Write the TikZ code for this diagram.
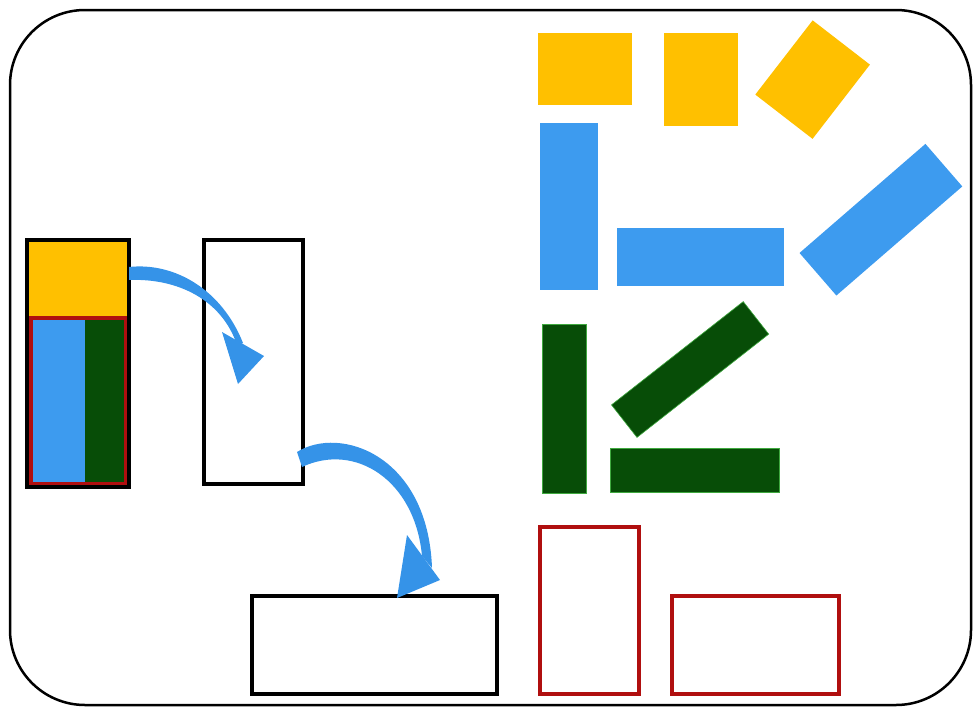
\documentclass[tikz,border=0pt]{standalone}
\definecolor{myyellow}{HTML}{FFC000}
\definecolor{myblue}{HTML}{3D9BEF}
\definecolor{mygreen}{HTML}{074D07}
\definecolor{myred}{HTML}{B00F0F}
\definecolor{arrowblue}{HTML}{3593E8}
\definecolor{lightgreen}{HTML}{3FA93F}
\tikzset{
  box/.style={rectangle, inner sep=0pt, outer sep=0pt, minimum width=#1},
  blackbox/.style={draw=black, line width=3.5pt},
  redbox/.style={draw=myred, line width=3.5pt},
  yel/.style={fill=myyellow},
  blu/.style={fill=myblue},
  grn/.style={fill=mygreen, draw=lightgreen, line width=0.6pt},
  bigarrow/.style={fill=arrowblue, draw=none}
}
\begin{document}
\begin{tikzpicture}[x=1pt,y=-1pt]
\useasboundingbox (0,0) rectangle (974,707);
% frame
\draw[line width=2.5pt, rounded corners=75pt] (10,10) rectangle (971,705);

% left stack
\node[box=100pt, minimum height=78pt, yel] (stacktop) at (78,280) {};
\node[box=52pt, minimum height=162pt, blu] (stackblue) at (59,401) {};
\node[box=39pt, minimum height=162pt, fill=mygreen] (stackgreen) at (104.5,401) {};
\node[box=95pt, minimum height=166pt, redbox] (stackred) at (78.5,401) {};
\node[box=102pt, minimum height=247pt, blackbox, line width=4.5pt] (stack) at (78,363.5) {};

% middle rect and bottom rect
\node[box=99pt, minimum height=244pt, blackbox] (mid) at (253.5,362) {};
\node[box=245pt, minimum height=98pt, blackbox] (bottom) at (374.5,645) {};

% yellow shapes
\node[box=94pt, minimum height=72pt, yel] (y1) at (585,69) {};
\node[box=74pt, minimum height=93pt, yel] (y2) at (701,79.5) {};
\node[box=72.4pt, minimum height=93.8pt, yel, rotate=-37.7] (y3) at (812.6,79.6) {};

% blue shapes
\node[box=58pt, minimum height=167pt, blu] (b1) at (569,206.5) {};
\node[box=167pt, minimum height=58pt, blu] (b2) at (700.5,257) {};
\node[box=166.6pt, minimum height=56.3pt, blu, rotate=40.9] (b3) at (880.9,219.7) {};

% green shapes
\node[box=44pt, minimum height=169pt, grn] (g1) at (564,408.5) {};
\node[box=169pt, minimum height=44pt, grn] (g2) at (694.5,470) {};
\node[box=167.4pt, minimum height=41.3pt, grn, rotate=38.1] (g3) at (690.1,369.5) {};

% red outlines
\node[box=99pt, minimum height=167pt, redbox] (r1) at (589.5,610.5) {};
\node[box=167pt, minimum height=98pt, redbox] (r2) at (755.5,645) {};

% arrow 1: stack -> mid
\fill[bigarrow] (129,267) .. controls (175,262) and (222,290) .. (243,343)
  -- (237,345) .. controls (222,300) and (178,278) .. (129,280) -- cycle;
\fill[bigarrow] (222,332) -- (264,356) -- (238,384) -- cycle;

% arrow 2: mid -> bottom
\fill[bigarrow] (297,452) .. controls (340,425) and (428,455) .. (432,568)
  -- (422,556) .. controls (415,480) and (355,442) .. (302,467) -- cycle;
\fill[bigarrow] (407,535) -- (440,580) -- (397,598) -- cycle;
\end{tikzpicture}
\end{document}
